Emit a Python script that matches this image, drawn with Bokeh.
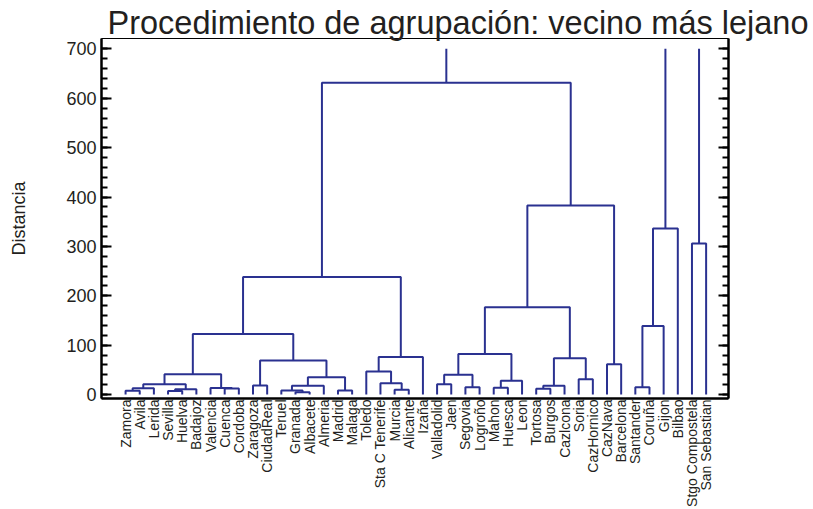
import math
from bokeh.plotting import figure
from bokeh.models import Range1d, LinearAxis, FixedTicker
from bokeh.embed import file_html
from bokeh.resources import INLINE

# ---- data ----
leaves = ["Zamora", "Avila", "Lerida", "Sevilla", "Huelva", "Badajoz", "Valencia",
          "Cuenca", "Cordoba", "Zaragoza", "CiudadReal", "Teruel", "Granada",
          "Albacete", "Almeria", "Madrid", "Malaga", "Toledo", "Sta C Tenerife",
          "Murcia", "Alicante", "Izaña", "Valladolid", "Jaen", "Segovia", "Logroño",
          "Mahon", "Huesca", "Leon", "Tortosa", "Burgos", "Cazlcona", "Soria",
          "CazHornico", "CazNava", "Barcelona", "Santander", "Coruña", "Gijon",
          "Bilbao", "Stgo Compostela", "San Sebastian"]

# merges: (left, right, distance); strings = leaves, ints = earlier merge index
merges = [
    ("Zamora", "Avila", 7.5),        # 0
    (0, "Lerida", 12.8),             # 1
    ("Sevilla", "Huelva", 7.0),      # 2
    (2, "Badajoz", 10.8),            # 3
    (1, 3, 21.0),                    # 4
    ("Cuenca", "Cordoba", 12.0),     # 5
    ("Valencia", 5, 13.5),           # 6
    (4, 6, 41.0),                    # 7
    ("Zaragoza", "CiudadReal", 18.5),  # 8
    ("Granada", "Albacete", 4.7),    # 9
    ("Teruel", 9, 8.1),              # 10
    (10, "Almeria", 17.7),           # 11
    ("Madrid", "Malaga", 8.1),       # 12
    (11, 12, 35.0),                  # 13
    (8, 13, 69.0),                   # 14
    (7, 14, 122.5),                  # 15
    ("Murcia", "Alicante", 9.5),     # 16
    ("Sta C Tenerife", 16, 23.0),    # 17
    ("Toledo", 17, 46.7),            # 18
    (18, "Izaña", 76.0),             # 19
    (15, 19, 238.0),                 # 20
    ("Valladolid", "Jaen", 21.0),    # 21
    ("Segovia", "Logroño", 14.8),    # 22
    (21, 22, 40.0),                  # 23
    ("Mahon", "Huesca", 14.0),       # 24
    (24, "Leon", 28.0),              # 25
    (23, 25, 82.0),                  # 26
    ("Tortosa", "Burgos", 11.6),     # 27
    (27, "Cazlcona", 17.7),          # 28
    ("Soria", "CazHornico", 31.0),   # 29
    (28, 29, 73.7),                  # 30
    (26, 30, 177.0),                 # 31
    ("CazNava", "Barcelona", 61.5),  # 32
    (31, 32, 383.0),                 # 33
    (20, 33, 631.6),                 # 34
    ("Santander", "Coruña", 14.8),   # 35
    (35, "Gijon", 139.0),            # 36
    (36, "Bilbao", 336.5),           # 37
    ("Stgo Compostela", "San Sebastian", 306.0),  # 38
]
roots = [34, 37, 38]        # clusters joined above the plotted range
axis_max = 700
y_ticks = list(range(0, 701, 100))
y_minor = list(range(0, 701, 20))

# ---- build dendrogram lines from the merge table ----
pos = {name: i for i, name in enumerate(leaves)}
mx, mh = [], []
xs, ys = [], []


def node(n):
    if isinstance(n, str):
        return pos[n], 0.0
    return mx[n], mh[n]


for a, b, h in merges:
    xa_, ha = node(a)
    xb_, hb = node(b)
    xs.append([xa_, xa_, xb_, xb_])
    ys.append([ha, h, h, hb])
    mx.append((xa_ + xb_) / 2)
    mh.append(h)
for r in roots:
    xs.append([mx[r], mx[r]])
    ys.append([mh[r], axis_max])

FONT = "Liberation Sans"
LINE = "#2A3190"
TXT = "#231F20"

p = figure(width=813, height=509,
           x_range=Range1d(-1.7, 42.58), y_range=Range1d(-8, 721),
           output_backend="svg", toolbar_location=None,
           min_border_left=101, min_border_right=85,
           min_border_top=38, min_border_bottom=109,
           title="Procedimiento de agrupación: vecino más lejano")
p.title.text_font = FONT
p.title.text_font_size = "32.5px"
p.title.text_font_style = "normal"
p.title.text_color = TXT
p.title.align = "left"
p.title.offset = 6
p.title.standoff = -5

p.grid.visible = False
p.outline_line_color = "black"
p.outline_line_width = 1
p.background_fill_color = "white"
p.border_fill_color = "white"

p.multi_line(xs, ys, line_color=LINE, line_width=2)

# x axis: station names
xa = p.xaxis[0]
xa.ticker = FixedTicker(ticks=list(range(len(leaves))), minor_ticks=[])
xa.major_label_overrides = {i: n for i, n in enumerate(leaves)}
xa.major_label_orientation = math.pi / 2
xa.major_label_text_font = FONT
xa.major_label_text_font_size = "14px"
xa.major_label_text_color = TXT
xa.major_label_standoff = 1
xa.major_tick_in = 0
xa.major_tick_out = 0
xa.minor_tick_in = 0
xa.minor_tick_out = 0
xa.axis_line_width = 2.5
xa.axis_line_color = "black"

# left y axis
ya = p.yaxis[0]
ya.ticker = FixedTicker(ticks=y_ticks, minor_ticks=y_minor)
ya.axis_label = "Distancia"
ya.axis_label_text_font = FONT
ya.axis_label_text_font_size = "18px"
ya.axis_label_text_font_style = "normal"
ya.axis_label_text_color = TXT
ya.axis_label_standoff = 34
ya.major_label_text_font = FONT
ya.major_label_text_font_size = "18px"
ya.major_label_text_color = TXT
ya.major_label_standoff = 5
ya.major_tick_in = 10
ya.major_tick_out = 0
ya.minor_tick_in = 6
ya.minor_tick_out = 0
ya.major_tick_line_width = 2
ya.minor_tick_line_width = 2
ya.axis_line_width = 2.5
ya.axis_line_color = "black"

# right y axis (ticks only)
ra = LinearAxis(ticker=FixedTicker(ticks=y_ticks, minor_ticks=y_minor))
ra.major_label_text_font_size = "0px"
ra.major_label_text_color = None
ra.major_tick_in = 10
ra.major_tick_out = 0
ra.minor_tick_in = 6
ra.minor_tick_out = 0
ra.major_tick_line_width = 2
ra.minor_tick_line_width = 2
ra.axis_line_width = 2.5
ra.axis_line_color = "black"
p.add_layout(ra, "right")

open("out.html", "w").write(file_html(p, INLINE))
